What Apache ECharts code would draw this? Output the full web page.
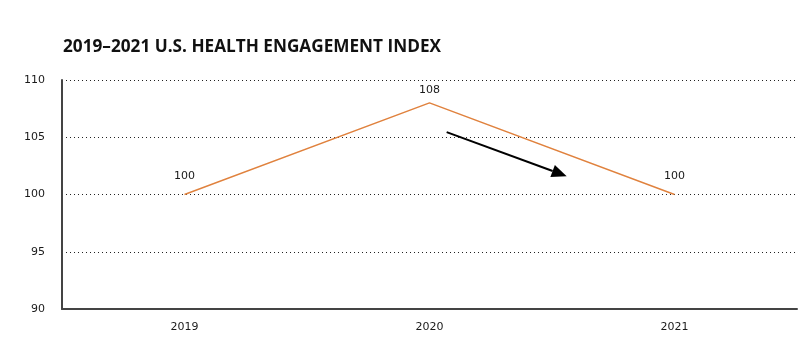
<!DOCTYPE html>
<html>
<head>
<meta charset="utf-8">
<script src="https://cdn.jsdelivr.net/npm/echarts@6/dist/echarts.min.js"></script>
<style>
  html, body { margin: 0; padding: 0; background: #fff; }
  #chart { width: 800px; height: 351px; }
</style>
</head>
<body>
<div id="chart"></div>
<script>
const years = ['2019', '2020', '2021']
const indexValues = [100, 108, 100]
const yTicks = [90, 95, 100, 105, 110]
// trend arrow, in data units (category index, value)
const arrowFrom = [1.07, 105.45]
const arrowTo = [1.56, 101.6]

const chart = echarts.init(document.getElementById('chart'))

// the peak label sits a little closer to its point
const lineData = indexValues.map((v, i) => ({
  value: v,
  label: { distance: i === 1 ? 6 : 12 }
}))

const option = {
  animation: false,
  title: {
    text: '2019\u20132021 U.S. HEALTH ENGAGEMENT INDEX',
    left: 58,
    top: 34,
    textStyle: {
      fontFamily: 'Open Sans',
      fontWeight: 'bold',
      fontSize: 17.2,
      color: '#111'
    }
  },
  grid: {
    left: 62,
    right: 3,
    top: 80,
    bottom: 42
  },
  xAxis: {
    type: 'category',
    data: years,
    boundaryGap: true,
    axisTick: { show: false },
    axisLine: { lineStyle: { color: '#444', width: 2 } },
    axisLabel: {
      margin: 13,
      color: '#1a1a1a',
      fontFamily: 'DejaVu Sans',
      fontSize: 11
    }
  },
  yAxis: {
    type: 'value',
    min: yTicks[0],
    max: yTicks[yTicks.length - 1],
    interval: 5,
    axisLine: { show: true, lineStyle: { color: '#444', width: 2 } },
    axisTick: { show: false },
    axisLabel: {
      margin: 17,
      color: '#1a1a1a',
      fontFamily: 'DejaVu Sans',
      fontSize: 11
    },
    splitLine: {
      lineStyle: { color: '#222', type: [1, 3], width: 1 }
    }
  },
  series: [
    {
      type: 'line',
      data: lineData,
      symbol: 'circle',
      symbolSize: 2,
      showSymbol: true,
      itemStyle: { color: 'rgba(0,0,0,0)' },
      lineStyle: { color: '#E0823E', width: 1.5 },
      label: {
        show: true,
        position: 'top',
        color: '#1a1a1a',
        fontFamily: 'DejaVu Sans',
        fontSize: 11
      }
    }
  ]
}

chart.setOption(option)

// arrow position interpolated between the category pixel positions
function toPixel(p) {
  const i = Math.floor(p[0])
  const a = chart.convertToPixel({ gridIndex: 0 }, [i, p[1]])
  const b = chart.convertToPixel({ gridIndex: 0 }, [i + 1, p[1]])
  const t = p[0] - i
  return [a[0] + (b[0] - a[0]) * t, a[1]]
}
const s = toPixel(arrowFrom)
const e = toPixel(arrowTo)
const ang = Math.atan2(e[1] - s[1], e[0] - s[0])
const headLen = 15, headW = 6.5
const base = [e[0] - headLen * Math.cos(ang), e[1] - headLen * Math.sin(ang)]
const nx = -Math.sin(ang), ny = Math.cos(ang)

chart.setOption({
  graphic: [
    {
      type: 'line',
      shape: { x1: s[0], y1: s[1], x2: base[0], y2: base[1] },
      style: { stroke: '#000', lineWidth: 2 }
    },
    {
      type: 'polygon',
      shape: {
        points: [
          e,
          [base[0] + nx * headW, base[1] + ny * headW],
          [base[0] - nx * headW, base[1] - ny * headW]
        ]
      },
      style: { fill: '#000' }
    }
  ]
})
</script>
</body>
</html>
